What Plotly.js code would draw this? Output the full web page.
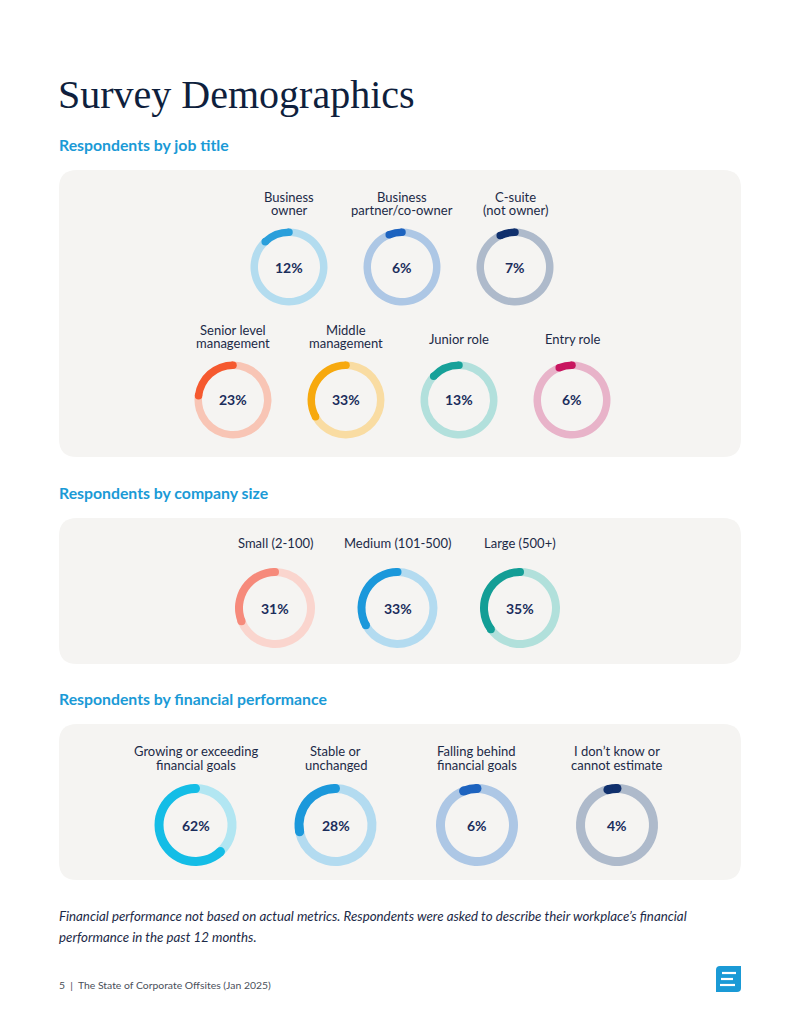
<!DOCTYPE html>
<html>
<head>
<meta charset="utf-8">
<script src="https://cdn.plot.ly/plotly-3.0.1.min.js"></script>
<style>
  html, body { margin: 0; padding: 0; background: #ffffff; }
  #chart { width: 800px; height: 1035px; }
</style>
</head>
<body>
<div id="chart"></div>
<script>
// ---- Survey values ----
const jobTitles = ['Business<br>owner', 'Business<br>partner/co-owner', 'C-suite<br>(not owner)',
                   'Senior level<br>management', 'Middle<br>management', 'Junior role', 'Entry role'];
const jobValues = [12, 6, 7, 23, 33, 13, 6];

const sizeLabels = ['Small (2-100)', 'Medium (101-500)', 'Large (500+)'];
const sizeValues = [31, 33, 35];

const finLabels = ['Growing or exceeding<br>financial goals', 'Stable or<br>unchanged',
                   'Falling behind<br>financial goals', 'I don’t know or<br>cannot estimate'];
const finValues = [62, 28, 6, 4];

// ---- Styling ----
const jobArc   = ['#2a9fdb', '#1d63bf', '#10306d', '#f5592f', '#f7a90e', '#17a199', '#c8155f'];
const jobTrack = ['#b3dcef', '#adc7e5', '#aebacb', '#f8c5b5', '#f9dca2', '#b2e0dc', '#e8b3c9'];
const sizeArc   = ['#f68a7b', '#1b98db', '#139e96'];
const sizeTrack = ['#fad5ce', '#b3dbf0', '#b1e0db'];
const finArc   = ['#14bde6', '#1b98db', '#1d63bf', '#10306d'];
const finTrack = ['#b2e6f2', '#b3dbf0', '#adc7e5', '#aebacb'];

const W = 800, H = 1035;
const px = x => x / W;
const py = y => 1 - y / H;

const LABEL = '#1c2a47';
const PCT = '#1b2d5c';
const HEAD = '#1a9ad6';
const FONT = 'Lato, "Open Sans", sans-serif';

const data = [];
const shapes = [];
const annotations = [];

// Rounded rectangle panel
function panel(x0, y0, x1, y1, r) {
  const X0 = px(x0), X1 = px(x1), Y0 = py(y0), Y1 = py(y1);
  const rx = r / W, ry = r / H;
  const path = `M ${X0 + rx},${Y0} L ${X1 - rx},${Y0} Q ${X1},${Y0} ${X1},${Y0 - ry} ` +
               `L ${X1},${Y1 + ry} Q ${X1},${Y1} ${X1 - rx},${Y1} L ${X0 + rx},${Y1} ` +
               `Q ${X0},${Y1} ${X0},${Y1 + ry} L ${X0},${Y0 - ry} Q ${X0},${Y0} ${X0 + rx},${Y0} Z`;
  shapes.push({ type: 'path', xref: 'paper', yref: 'paper', path: path,
                fillcolor: '#f5f4f2', line: { width: 0 }, layer: 'below' });
}

function text(str, x, y, opts) {
  opts = opts || {};
  annotations.push({
    xref: 'paper', yref: 'paper', x: px(x), y: py(y), text: str, showarrow: false,
    xanchor: opts.xanchor || 'center', yanchor: 'middle', borderpad: 0,
    font: { family: opts.family || FONT, size: opts.size || 13, color: opts.color || LABEL,
            weight: opts.weight || 400, style: opts.style || 'normal' }
  });
}

// Donut: track first (clockwise from 12 o'clock), so the value arc closes back at
// 12 o'clock and reads counter-clockwise from the top; rounded ends on the arc
function donut(value, cx, cy, R, thick, arc, track, label, labelY, lineGap) {
  data.push({
    type: 'pie', values: [100 - value, value], sort: false, direction: 'clockwise',
    rotation: 0, hole: (R - thick) / R, textinfo: 'none', hoverinfo: 'skip',
    marker: { colors: [track, arc], line: { width: 0 } }, showlegend: false,
    domain: { x: [px(cx - R), px(cx + R)], y: [py(cy + R), py(cy - R)] }
  });
  const rm = R - thick / 2;
  const angles = [90, 90 + value * 3.6].map(a => a * Math.PI / 180);
  angles.forEach(a => {
    const ex = cx + rm * Math.cos(a), ey = cy - rm * Math.sin(a);
    const h = thick / 2;
    shapes.push({ type: 'circle', xref: 'paper', yref: 'paper',
      x0: px(ex - h), x1: px(ex + h), y0: py(ey + h), y1: py(ey - h),
      fillcolor: arc, line: { width: 0 }, layer: 'above' });
  });
  text(value + '%', cx, cy, { size: 14, color: PCT, weight: 700 });
  const lines = label.split('<br>');
  const start = labelY - (lines.length - 1) * lineGap / 2;
  lines.forEach((ln, i) => text(ln, cx, start + i * lineGap, { size: 13 }));
}

// ---- Page heading ----
text('Survey Demographics', 57, 95, { xanchor: 'left', size: 40, color: '#0f1f3d',
      family: '"Liberation Serif", "DejaVu Serif", serif' });

// ---- Job title ----
text('Respondents by job title', 58, 145, { xanchor: 'left', size: 15.8, color: HEAD, weight: 700 });
panel(59, 170, 741, 457, 18);
const jobPos = [[289, 267, 203.5], [402, 267, 203.5], [515, 267, 203.5],
                [233, 400, 336.5], [346, 400, 336.5], [459, 400, 339], [572, 400, 339]];
jobValues.forEach((v, i) => {
  const p = jobPos[i];
  donut(v, p[0], p[1], 38.5, 7.5, jobArc[i], jobTrack[i], jobTitles[i], p[2], 13.5);
});

// ---- Company size ----
text('Respondents by company size', 58, 492, { xanchor: 'left', size: 15.8, color: HEAD, weight: 700 });
panel(59, 518, 741, 664, 18);
const sizePos = [275, 397.5, 520];
sizeValues.forEach((v, i) => {
  donut(v, sizePos[i], 608, 40, 8, sizeArc[i], sizeTrack[i], sizeLabels[i], 543, 13.5);
});

// ---- Financial performance ----
text('Respondents by financial performance', 58, 698, { xanchor: 'left', size: 15.8, color: HEAD, weight: 700 });
panel(59, 724, 741, 880, 18);
const finPos = [195.5, 335.5, 477, 617];
finValues.forEach((v, i) => {
  donut(v, finPos[i], 825, 41, 9, finArc[i], finTrack[i], finLabels[i], 758, 14);
});

// ---- Notes and footer ----
text('Financial performance not based on actual metrics. Respondents were asked to describe their workplace’s financial',
     58, 916, { xanchor: 'left', size: 13.3, style: 'italic' });
text('performance in the past 12 months.', 58, 937, { xanchor: 'left', size: 13.3, style: 'italic' });
text('5  |  The State of Corporate Offsites (Jan 2025)', 58, 985,
     { xanchor: 'left', size: 10.4, color: '#4a4f5a' });

// Brand mark
(function () {
  const x0 = 716, x1 = 741, y0 = 966, y1 = 992, r = 4;
  const path = `M ${px(x0 + r)},${py(y0)} L ${px(x1)},${py(y0)} L ${px(x1)},${py(y1 - r)} ` +
               `Q ${px(x1)},${py(y1)} ${px(x1 - r)},${py(y1)} L ${px(x0)},${py(y1)} L ${px(x0)},${py(y0 + r)} ` +
               `Q ${px(x0)},${py(y0)} ${px(x0 + r)},${py(y0)} Z`;
  shapes.push({ type: 'path', xref: 'paper', yref: 'paper', path: path,
                fillcolor: '#1a9ad6', line: { width: 0 } });
  [[722, 736, 973], [721, 733, 979], [720, 735, 985]].forEach(s => {
    shapes.push({ type: 'line', xref: 'paper', yref: 'paper',
      x0: px(s[0]), x1: px(s[1]), y0: py(s[2]), y1: py(s[2]),
      line: { color: '#ffffff', width: 2.2 } });
  });
})();

const layout = {
  width: W, height: H, margin: { l: 0, r: 0, t: 0, b: 0 },
  paper_bgcolor: '#ffffff', plot_bgcolor: '#ffffff',
  showlegend: false, shapes: shapes, annotations: annotations, hovermode: false
};

Plotly.newPlot('chart', data, layout, { displayModeBar: false, staticPlot: true });
</script>
</body>
</html>
